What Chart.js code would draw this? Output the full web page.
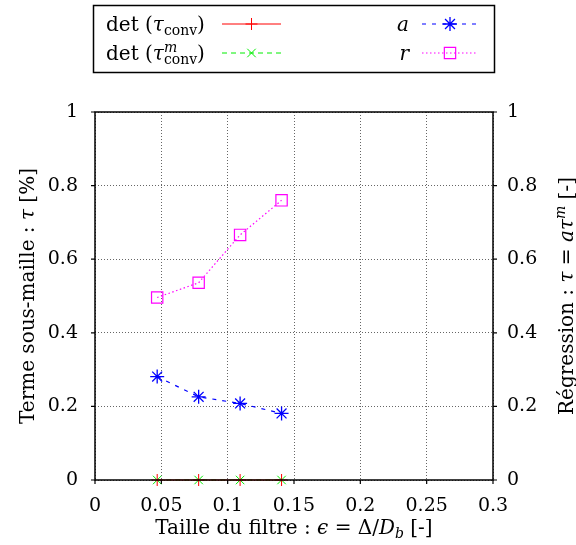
<!DOCTYPE html>
<html>
<head>
<meta charset="utf-8">
<script src="https://cdn.jsdelivr.net/npm/chart.js@4"></script>
<style>
  html, body { margin: 0; padding: 0; background: #fff; }
  #wrap { width: 576px; height: 545px; }
</style>
</head>
<body>
<div id="wrap"><canvas id="myChart" width="576" height="545"></canvas></div>
<script>
// filter sizes (epsilon = Delta / D_b)
const filterSizes = [0.046875, 0.078125, 0.109375, 0.140625];
const detConv = [0, 0, 0, 0];
const detConvM = [0, 0, 0, 0];
const regA = [0.281, 0.226, 0.208, 0.181];
const regR = [0.496, 0.536, 0.666, 0.760];
const xTicks = [0, 0.05, 0.1, 0.15, 0.2, 0.25, 0.3];
const yTicks = [0, 0.2, 0.4, 0.6, 0.8, 1];

const FONT = '"DejaVu Serif", serif';
const TICK_SIZE = 19;
const TEXT_SIZE = 20;
const ctx = document.getElementById('myChart');

function pts(values) {
    return filterSizes.map((x, i) => ({ x: x, y: values[i] }));
}

function fmt(v) {
    return String(+Number(v).toFixed(2));
}

// draws a list of text pieces: {t, it, sub, sup, subsup:[sup, sub]}
function richWidth(c, segs, size) {
    let w = 0;
    segs.forEach(s => {
        if (s.subsup) {
            c.font = Math.round(size * 0.72) + 'px ' + FONT;
            const a = c.measureText(s.subsup[0]).width;
            const b = c.measureText(s.subsup[1]).width;
            w += Math.max(a, b);
        } else {
            const fs = (s.sub || s.sup) ? Math.round(size * 0.72) : size;
            c.font = (s.it ? 'italic ' : '') + fs + 'px ' + FONT;
            w += c.measureText(s.t).width;
        }
    });
    return w;
}

function drawRich(c, segs, x, y, size, align) {
    let w = richWidth(c, segs, size);
    let cx = x;
    if (align === 'center') cx = x - w / 2;
    if (align === 'right') cx = x - w;
    c.textBaseline = 'alphabetic';
    c.textAlign = 'left';
    segs.forEach(s => {
        if (s.subsup) {
            c.font = 'italic ' + Math.round(size * 0.72) + 'px ' + FONT;
            c.fillText(s.subsup[0], cx, y - size * 0.42);
            c.font = Math.round(size * 0.72) + 'px ' + FONT;
            c.fillText(s.subsup[1], cx, y + size * 0.22);
            cx += Math.max(c.measureText(s.subsup[0]).width, c.measureText(s.subsup[1]).width);
            return;
        }
        const fs = (s.sub || s.sup) ? Math.round(size * 0.72) : size;
        c.font = (s.it ? 'italic ' : '') + fs + 'px ' + FONT;
        let dy = 0;
        if (s.sub) dy = size * 0.22;
        if (s.sup) dy = -size * 0.42;
        c.fillText(s.t, cx, y + dy);
        cx += c.measureText(s.t).width;
    });
}

const xTitle = [{ t: 'Taille du filtre : ' }, { t: 'ϵ', it: true }, { t: ' = Δ/' }, { t: 'D', it: true }, { t: 'b', it: true, sub: true }, { t: ' [-]' }];
const yTitle = [{ t: 'Terme sous-maille : ' }, { t: 'τ', it: true }, { t: ' [%]' }];
const y2Title = [{ t: 'Régression : ' }, { t: 'τ', it: true }, { t: ' = ' }, { t: 'aτ', it: true }, { t: 'm', it: true, sup: true }, { t: ' [-]' }];

const legendItems = [
    { ds: 0, text: [{ t: 'det (' }, { t: 'τ', it: true }, { t: 'conv', sub: true }, { t: ')' }], col: 0, row: 0 },
    { ds: 1, text: [{ t: 'det (' }, { t: 'τ', it: true }, { subsup: ['m', 'conv'] }, { t: ')' }], col: 0, row: 1 },
    { ds: 2, text: [{ t: 'a', it: true }], col: 1, row: 0 },
    { ds: 3, text: [{ t: 'r', it: true }], col: 1, row: 1 }
];

const framePlugin = {
    id: 'frame',
    afterDraw(chart) {
        const c = chart.ctx;
        const a = chart.chartArea;
        const sx = chart.scales.x, sy = chart.scales.y, sy2 = chart.scales.y2;
        c.save();
        // border box
        c.strokeStyle = '#000';
        c.lineWidth = 1.5;
        c.setLineDash([]);
        c.strokeRect(a.left, a.top, a.right - a.left, a.bottom - a.top);
        // outward ticks
        c.lineWidth = 1.2;
        c.beginPath();
        xTicks.forEach(v => {
            const px = sx.getPixelForValue(v);
            c.moveTo(px, a.bottom); c.lineTo(px, a.bottom + 4);
        });
        yTicks.forEach(v => {
            const py = sy.getPixelForValue(v);
            c.moveTo(a.left - 4, py); c.lineTo(a.left, py);
            const py2 = sy2.getPixelForValue(v);
            c.moveTo(a.right, py2); c.lineTo(a.right + 4, py2);
        });
        c.stroke();
        // axis titles
        c.fillStyle = '#000';
        drawRich(c, xTitle, (a.left + a.right) / 2, 534, TEXT_SIZE, 'center');
        c.save();
        c.translate(34, (a.top + a.bottom) / 2);
        c.rotate(-Math.PI / 2);
        drawRich(c, yTitle, 0, 0, TEXT_SIZE, 'center');
        c.restore();
        c.save();
        c.translate(573, (a.top + a.bottom) / 2);
        c.rotate(-Math.PI / 2);
        drawRich(c, y2Title, 0, 0, TEXT_SIZE, 'center');
        c.restore();

        // legend box
        c.lineWidth = 1.5;
        c.strokeRect(93.5, 5.5, 401, 67);
        const rowsY = [24, 53];
        legendItems.forEach(item => {
            const ds = chart.data.datasets[item.ds];
            const y = rowsY[item.row];
            let textX, l0, l1;
            if (item.col === 0) { textX = 106; l0 = 222; l1 = 281; }
            else { textX = 409; l0 = 422; l1 = 478; }
            c.fillStyle = '#000';
            drawRich(c, item.text, textX, y + 7, TEXT_SIZE, item.col === 0 ? 'left' : 'right');
            c.strokeStyle = ds.borderColor;
            c.lineWidth = ds.borderWidth;
            c.setLineDash(ds.borderDash || []);
            c.beginPath();
            c.moveTo(l0, y); c.lineTo(l1, y);
            c.stroke();
            c.setLineDash([]);
            c.fillStyle = ds.backgroundColor;
            c.lineWidth = ds.pointBorderWidth || 1;
            Chart.helpers.drawPoint(c, {
                pointStyle: ds.pointStyle,
                radius: ds.pointRadius,
                borderWidth: ds.pointBorderWidth || 1,
                rotation: 0
            }, (l0 + l1) / 2, y);
        });
        c.restore();
    }
};

new Chart(ctx, {
    type: 'scatter',
    data: {
        datasets: [{
            label: 'det (τconv)',
            data: pts(detConv),
            yAxisID: 'y',
            showLine: true,
            clip: false,
            borderColor: '#ff0000',
            backgroundColor: '#ff0000',
            borderWidth: 1,
            pointStyle: 'cross',
            pointRadius: 6,
            pointBorderWidth: 1
        }, {
            label: 'det (τmconv)',
            data: pts(detConvM),
            yAxisID: 'y',
            showLine: true,
            clip: false,
            borderColor: '#00ee00',
            backgroundColor: '#00ee00',
            borderWidth: 1,
            borderDash: [5, 4],
            pointStyle: 'crossRot',
            pointRadius: 6,
            pointBorderWidth: 1
        }, {
            label: 'a',
            data: pts(regA),
            yAxisID: 'y2',
            showLine: true,
            borderColor: '#0000ff',
            backgroundColor: '#0000ff',
            borderWidth: 1.2,
            borderDash: [4, 6],
            pointStyle: 'star',
            pointRadius: 7,
            pointBorderWidth: 1.3
        }, {
            label: 'r',
            data: pts(regR),
            yAxisID: 'y2',
            showLine: true,
            borderColor: '#ff00ff',
            backgroundColor: 'rgba(0,0,0,0)',
            borderWidth: 1.2,
            borderDash: [1.5, 2.5],
            pointStyle: 'rect',
            pointRadius: 8,
            pointBorderWidth: 1.2
        }]
    },
    options: {
        responsive: false,
        animation: false,
        layout: { padding: { left: 0, right: 0, top: 112, bottom: 0 } },
        plugins: {
            legend: { display: false },
            tooltip: { enabled: false }
        },
        scales: {
            x: {
                type: 'linear',
                min: 0,
                max: 0.3,
                afterFit(s) { s.height = 65; },
                afterBuildTicks(s) { s.ticks = xTicks.map(v => ({ value: v })); },
                ticks: { color: '#000', font: { family: FONT, size: TICK_SIZE }, padding: 15, maxRotation: 0, callback: fmt },
                grid: { color: '#666', lineWidth: 1, drawTicks: false },
                border: { display: false, dash: [1, 2] }
            },
            y: {
                type: 'linear',
                position: 'left',
                min: 0,
                max: 1,
                afterFit(s) { s.width = 95; },
                afterBuildTicks(s) { s.ticks = yTicks.map(v => ({ value: v })); },
                ticks: { color: '#000', font: { family: FONT, size: TICK_SIZE }, padding: 17, callback: fmt },
                grid: { color: '#666', lineWidth: 1, drawTicks: false },
                border: { display: false, dash: [1, 2] }
            },
            y2: {
                type: 'linear',
                position: 'right',
                min: 0,
                max: 1,
                afterFit(s) { s.width = 83; },
                afterBuildTicks(s) { s.ticks = yTicks.map(v => ({ value: v })); },
                ticks: { color: '#000', font: { family: FONT, size: TICK_SIZE }, padding: 14, callback: fmt },
                grid: { display: false, drawTicks: false },
                border: { display: false }
            }
        }
    },
    plugins: [framePlugin]
});
</script>
</body>
</html>
